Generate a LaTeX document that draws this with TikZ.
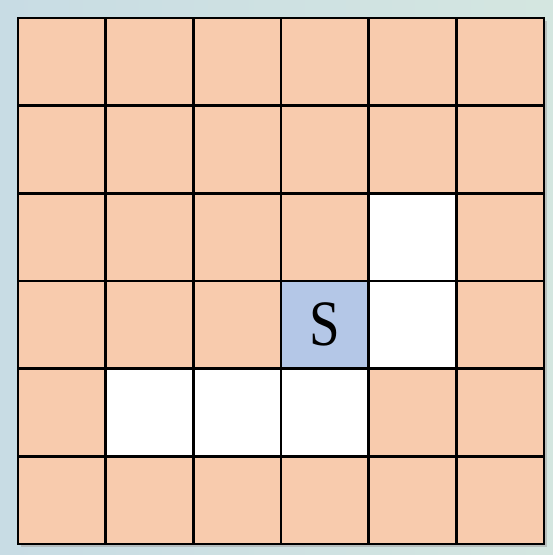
\documentclass[tikz,border=0pt]{standalone}
\usepackage{fontspec}
\setmainfont{Liberation Serif}
\definecolor{bgleft}{HTML}{C8DCE4}
\definecolor{bgright}{HTML}{D4E6E0}
\definecolor{peach}{HTML}{F8CBAD}
\definecolor{startblue}{HTML}{B4C7E7}
\usetikzlibrary{positioning}
\tikzset{
  cellbox/.style={draw=black,line width=0.9pt,fill=peach,minimum size=1cm,
    inner sep=0pt,outer sep=0pt,anchor=south west},
  freecell/.style={cellbox,fill=white},
  startcell/.style={cellbox,fill=startblue,font=\fontsize{21}{21}\selectfont},
}

\begin{document}
\begin{tikzpicture}[x=1cm,y=1cm]
  % background
  \shade[left color=bgleft,right color=bgright] (-0.205,-0.125) rectangle (6.1,6.205);
  \useasboundingbox (-0.205,-0.125) rectangle (6.1,6.205);
  \fill[black!35,opacity=0.6] (0.03,-0.03) rectangle (6.03,5.97);

  % grid
  \foreach \x in {0,...,5}
    \foreach \y in {0,...,5}
      \node[cellbox] (c-\x-\y) at (\x,\y) {};

  % open cells
  \foreach \x/\y in {4/3,4/2,1/1,2/1,3/1}
    \node[freecell] (f-\x-\y) at (\x,\y) {};

  \node[startcell] (s) at (3,2) {\scalebox{0.85}[1]{S}};
\end{tikzpicture}
\end{document}
